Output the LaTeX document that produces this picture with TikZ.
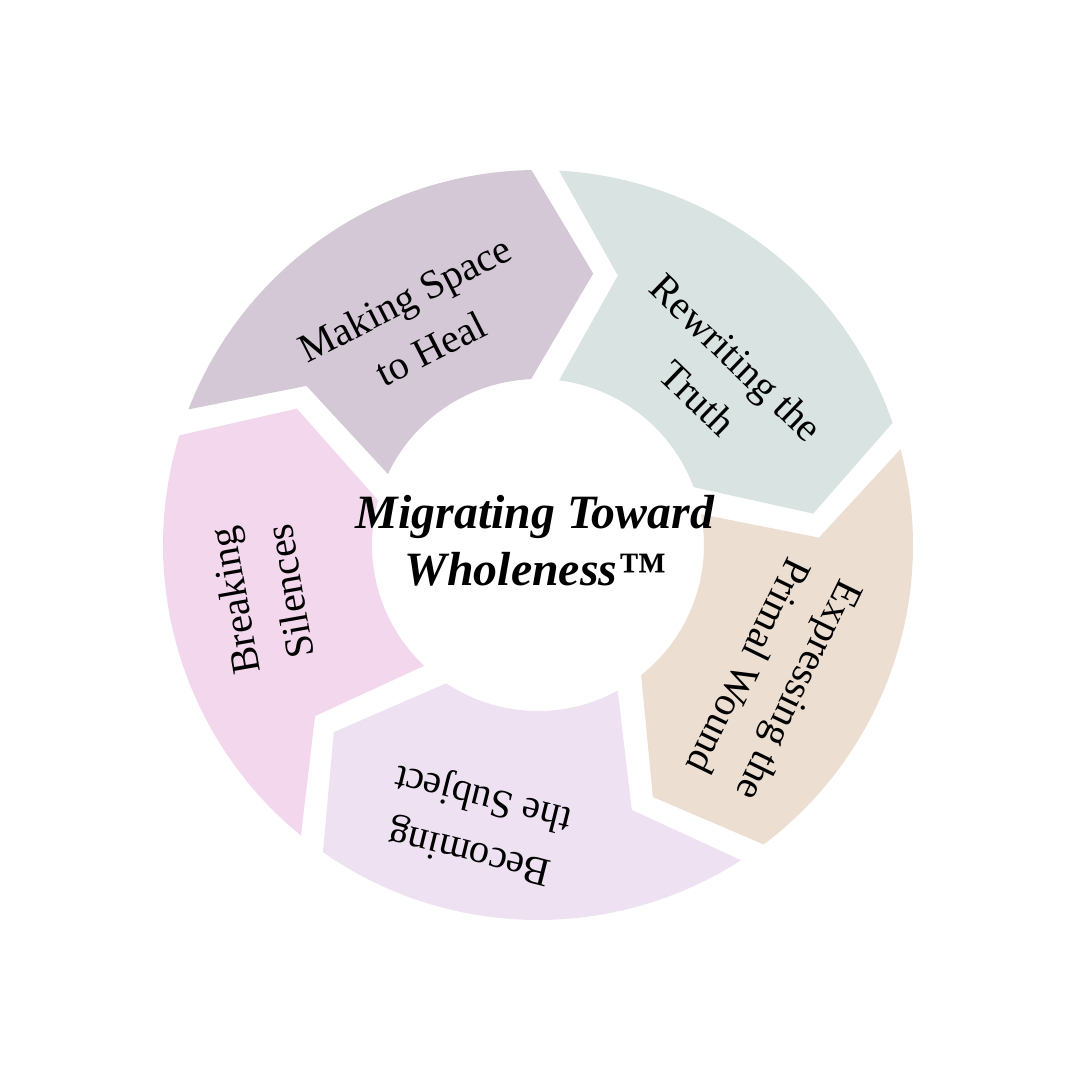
\documentclass[tikz,border=0pt]{standalone}
\usepackage{fontspec}
\setmainfont{Liberation Serif}
\usepackage{xcolor}
\definecolor{HealMauve}{HTML}{D4C8D6}
\definecolor{TruthSage}{HTML}{D9E3E1}
\definecolor{WoundSand}{HTML}{ECDFD2}
\definecolor{SubjectLilac}{HTML}{EEE2F2}
\definecolor{SilencePink}{HTML}{F2D7ED}
\tikzset{
  stage label/.style={align=center,inner sep=0pt,text=black,
    font=\fontsize{11.5}{16}\selectfont},
  hub label/.style={align=center,inner sep=0pt,text=black,
    font=\fontsize{13.6}{16.2}\selectfont\bfseries\itshape}
}

\begin{document}
\begin{tikzpicture}
  \useasboundingbox (-5.38,-5.35) rectangle (5.42,5.45);
  % five arrow segments, clockwise from the upper left
  \fill[HealMauve] (158.8:3.75) arc[start angle=158.8,end angle=91,radius=3.75]
    -- (78.5:2.77) -- (92.4:1.66) arc[start angle=92.4,end angle=154.7,radius=1.66]
    -- (145.5:2.81) -- cycle;
  \fill[TruthSage] (86.8:3.75) arc[start angle=86.8,end angle=19,radius=3.75]
    -- (6.5:2.77) -- (20.4:1.66) arc[start angle=20.4,end angle=82.7,radius=1.66]
    -- (73.5:2.81) -- cycle;
  \fill[WoundSand] (14.8:3.75) arc[start angle=14.8,end angle=-53,radius=3.75]
    -- (-65.5:2.77) -- (-51.6:1.66) arc[start angle=-51.6,end angle=10.7,radius=1.66]
    -- (1.5:2.81) -- cycle;
  \fill[SubjectLilac] (-57.2:3.75) arc[start angle=-57.2,end angle=-125,radius=3.75]
    -- (-137.5:2.77) -- (-123.6:1.66) arc[start angle=-123.6,end angle=-61.3,radius=1.66]
    -- (-70.5:2.81) -- cycle;
  \fill[SilencePink] (-129.2:3.75) arc[start angle=-129.2,end angle=-197,radius=3.75]
    -- (-209.5:2.77) -- (-195.6:1.66) arc[start angle=-195.6,end angle=-133.3,radius=1.66]
    -- (-142.5:2.81) -- cycle;
  % stage labels
  \node[stage label,rotate=27] (heal) at (118.5:2.52) {Making Space\\to Heal};
  \node[stage label,rotate=-44] (truth) at (43:2.45) {Rewriting the\\Truth};
  \node[stage label,rotate=-116] (wound) at (-29.5:2.72) {Expressing the\\Primal Wound};
  \node[stage label,rotate=166] (subject) at (-102.4:2.85) {Becoming\\the Subject};
  \node[stage label,rotate=100] (silence) at (190.5:2.81) {Breaking\\Silences};
  % centre title
  \node[hub label] (hub) at (-0.03,0.04) {Migrating Toward\\Wholeness™};
\end{tikzpicture}
\end{document}
